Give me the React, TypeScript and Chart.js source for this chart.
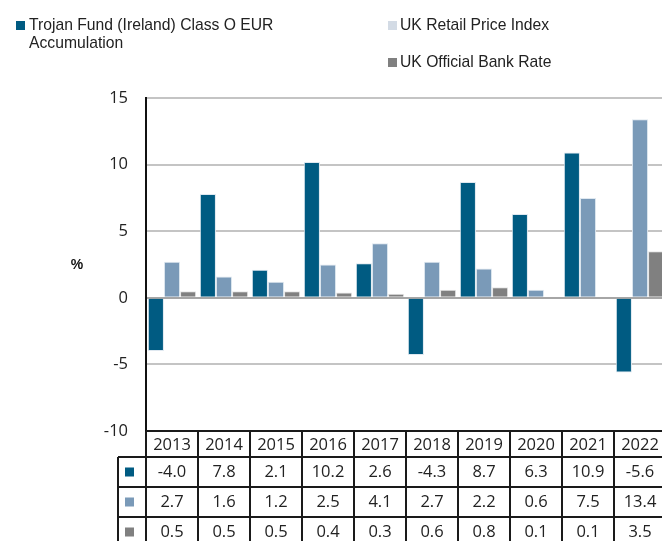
import React, { useEffect, useRef } from "react";
import { Chart, registerables } from "chart.js";

Chart.register(...registerables);

const years = ["2013", "2014", "2015", "2016", "2017", "2018", "2019", "2020", "2021", "2022"];
const trojan = [-4.0, 7.8, 2.1, 10.2, 2.6, -4.3, 8.7, 6.3, 10.9, -5.6];
const rpi = [2.7, 1.6, 1.2, 2.5, 4.1, 2.7, 2.2, 0.6, 7.5, 13.4];
const bankRate = [0.5, 0.5, 0.5, 0.4, 0.3, 0.6, 0.8, 0.1, 0.1, 3.5];
const seriesNames = ["Trojan Fund (Ireland) Class O EUR Accumulation", "UK Retail Price Index", "UK Official Bank Rate"];

const C_TROJAN = "#005b82";
const C_RPI = "#7a9ab8";
const C_BANK = "#808080";
const C_RPI_LEGEND = "#d3dbe5";

const TABLE_FONT = "16.5px 'Open Sans', sans-serif";

const tablePlugin = {
  id: "dataTable",
  afterDraw(chart: any) {
    const ctx = chart.ctx;
    const xs = chart.scales.x;
    const area = chart.chartArea;
    const n = years.length;
    const w = (area.right - area.left) / n;
    const top = area.bottom;
    const headerH = 26;
    const rowH = 30;
    const swLeft = area.left - 28;
    const rows = [trojan, rpi, bankRate];
    const colors = [C_TROJAN, C_RPI, C_BANK];
    ctx.save();
    ctx.strokeStyle = "#1a1a1a";
    ctx.lineWidth = 2;
    ctx.beginPath();
    ctx.moveTo(area.left, top);
    ctx.lineTo(area.right + 2, top);
    for (let i = 0; i <= n; i++) {
      const x = Math.round(area.left + i * w);
      ctx.moveTo(x, top);
      ctx.lineTo(x, top + headerH + rowH * 3 + 10);
    }
    ctx.moveTo(swLeft, top + headerH);
    ctx.lineTo(area.right + 2, top + headerH);
    for (let r = 1; r <= 3; r++) {
      const y = top + headerH + rowH * r;
      ctx.moveTo(swLeft, y);
      ctx.lineTo(area.right + 2, y);
    }
    ctx.moveTo(swLeft, top + headerH);
    ctx.lineTo(swLeft, top + headerH + rowH * 3 + 10);
    ctx.stroke();

    ctx.font = TABLE_FONT;
    ctx.textAlign = "center";
    ctx.textBaseline = "middle";
    for (let i = 0; i < n; i++) {
      const cx = xs.getPixelForValue(i);
      ctx.fillStyle = "#222";
      ctx.fillText(years[i], cx, top + headerH / 2 + 1);
      rows.forEach((row, r) => {
        ctx.fillText(row[i].toFixed(1), cx, top + headerH + rowH * r + rowH / 2);
      });
    }
    rows.forEach((_, r) => {
      ctx.fillStyle = colors[r];
      const cy = top + headerH + rowH * r + rowH / 2;
      ctx.fillRect(swLeft + 7, cy - 4.5, 9, 9);
    });

    ctx.fillStyle = "#111";
    ctx.font = "bold 14px 'Liberation Sans', Arial, sans-serif";
    ctx.textAlign = "center";
    ctx.fillText("%", 77, 265);
    ctx.restore();
  },
};

export default function App() {
  const ref = useRef<HTMLCanvasElement | null>(null);
  useEffect(() => {
    if (!ref.current) return;
    const chart = new Chart(ref.current, {
      type: "bar",
      data: {
        labels: years,
        datasets: [
          { label: seriesNames[0], data: trojan, backgroundColor: C_TROJAN, borderColor: "#dfe8f0", borderWidth: 1 },
          { label: seriesNames[1], data: rpi, backgroundColor: C_RPI, borderColor: "#dfe8f0", borderWidth: 1 },
          { label: seriesNames[2], data: bankRate, backgroundColor: C_BANK, borderColor: "#e6e6e6", borderWidth: 1 },
        ],
      },
      options: {
        responsive: false,
        animation: false,
        layout: { padding: { left: 0, right: 14, top: 98, bottom: 110 } },
        plugins: { legend: { display: false }, tooltip: { enabled: false } },
        datasets: { bar: { categoryPercentage: 0.93, barPercentage: 1.0 } },
        scales: {
          x: { display: false },
          y: {
            min: -10,
            max: 15,
            afterFit: (s: any) => { s.width = 146; },
            ticks: {
              stepSize: 5,
              padding: 18,
              color: "#222",
              font: { family: "'Open Sans', sans-serif", size: 16.5 },
            },
            grid: {
              drawTicks: false,
              lineWidth: 2,
              color: (c: any) => (c.tick && c.tick.value === 0 ? "#a6a6a6" : c.tick && c.tick.value === -10 ? "#1a1a1a" : "#c4c4c4"),
            },
            border: { display: true, color: "#111", width: 2 },
          },
        },
      },
      plugins: [tablePlugin],
    });
    return () => chart.destroy();
  }, []);

  const legendText: React.CSSProperties = {
    position: "absolute",
    fontFamily: "'Liberation Sans', Arial, sans-serif",
    fontSize: 15.7,
    lineHeight: "18px",
    color: "#222",
    whiteSpace: "nowrap",
  };
  const sw = (left: number, top: number, color: string): React.CSSProperties => ({
    position: "absolute", left, top, width: 9, height: 9, background: color,
  });

  return (
    <div style={{ position: "fixed", left: 0, top: 0, width: 662, height: 541, overflow: "hidden", background: "#fff" }}>
      <canvas ref={ref} width={680} height={541} style={{ position: "absolute", left: 0, top: 0 }} />
      <div style={sw(16, 21, C_TROJAN)} />
      <div style={{ ...legendText, left: 29, top: 16 }}>Trojan Fund (Ireland) Class O EUR<br />Accumulation</div>
      <div style={sw(388, 21, C_RPI_LEGEND)} />
      <div style={{ ...legendText, left: 400, top: 16 }}>{seriesNames[1]}</div>
      <div style={sw(388, 58, C_BANK)} />
      <div style={{ ...legendText, left: 400, top: 53 }}>{seriesNames[2]}</div>
    </div>
  );
}
